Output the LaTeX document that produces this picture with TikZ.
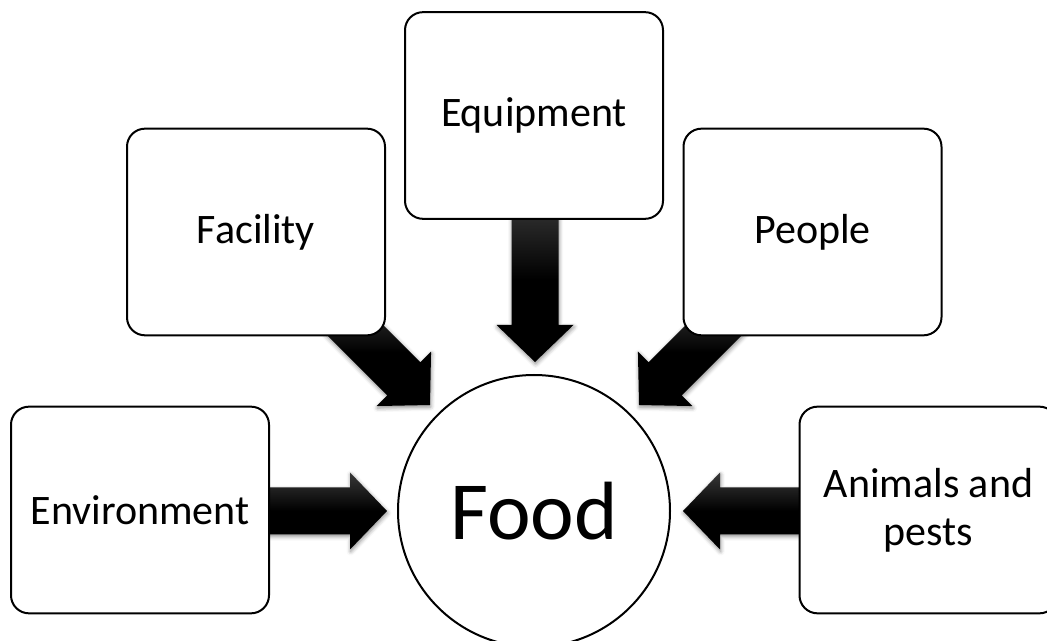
\documentclass[tikz,border=0pt]{standalone}
\usepackage{fontspec}
\setmainfont{Carlito}
\usetikzlibrary{shadows.blur}
\tikzset{
  box/.style={draw=black, line width=1.5pt, fill=white, rounded corners=13.5pt,
    minimum width=193.5pt, minimum height=155pt, inner sep=0pt, align=center,
    font=\fontsize{31.5}{36}\selectfont},
  hub/.style={draw=black, line width=1.5pt, fill=white, circle, minimum size=204pt,
    inner sep=0pt, font=\fontsize{62}{70}\selectfont},
  arrowfill/.style={top color=black!78, bottom color=black, middle color=black, draw=none,
    blur shadow={shadow xshift=0.5pt, shadow yshift=-1.5pt, shadow blur radius=3pt, shadow opacity=45}},
  pics/blockarrow/.style={code={
    \path[arrowfill] (0,0) -- (-37,38.5) -- (-37,23.5) -- (-#1,23.5) -- (-#1,-23.5)
      -- (-37,-23.5) -- (-37,-38.5) -- cycle;
  }}
}
\begin{document}
\begin{tikzpicture}[x=0.75pt, y=-0.75pt]
\useasboundingbox (0,0) rectangle (1047,641);
\clip (0,0) rectangle (1047,641);
% arrow tips
\coordinate (tEq) at (535,362);
\coordinate (tFa) at (430,405);
\coordinate (tPe) at (639,405);
\coordinate (tEn) at (387,511);
\coordinate (tAn) at (683,511);
% arrows (drawn beneath the boxes)
\pic[rotate=-90] at (tEq) {blockarrow=165};
\pic[rotate=-45] at (tFa) {blockarrow=127};
\pic[rotate=-135] at (tPe) {blockarrow=127};
\pic at (tEn) {blockarrow=140};
\pic[rotate=180] at (tAn) {blockarrow=140};
% boxes
\node[box] (equip) at (534,115.5) {Equipment};
\node[box] (facil) at (256,232) {Facility};
\node[box] (people) at (812.5,232) {People};
\node[box] (env) at (140,510) {Environment};
\node[box] (anim) at (928.5,510) {Animals and\\pests};
\node[hub] (food) at (534,511) {Food};
\end{tikzpicture}
\end{document}
